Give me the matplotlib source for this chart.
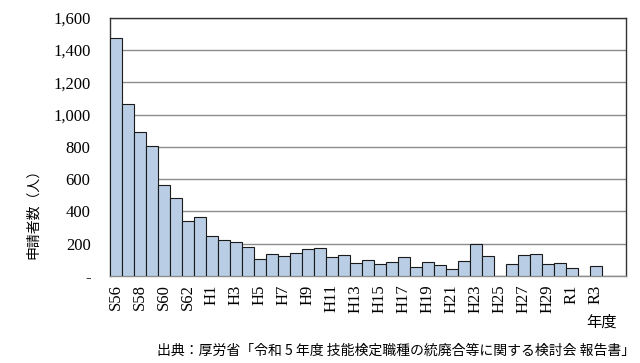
import matplotlib
matplotlib.use("Agg")
import matplotlib.pyplot as plt
import numpy as np

# 年度ラベル (S56 - R5)
years = (["S%d" % y for y in range(56, 64)]
         + ["H%d" % y for y in range(1, 31)]
         + ["R%d" % y for y in range(1, 6)])

# 申請者数 (人) ; None = no bar
applicants = [1472, 1065, 894, 805, 562, 481, 339, 363,
              250, 221, 211, 182, 107, 138, 122, 145, 165, 171, 120, 128,
              83, 97, 76, 89, 118, 56, 89, 70, 45, 95, 200, 122,
              None, 74, 130, 134, 76, 83,
              52, None, 64, None, None]

yticks = [0, 200, 400, 600, 800, 1000, 1200, 1400, 1600]
ytick_labels = ["-", "200", "400", "600", "800", "1,000", "1,200", "1,400", "1,600"]

plt.rcParams["font.serif"] = ["Liberation Serif", "DejaVu Serif"]
jp = ["Noto Sans CJK JP", "DejaVu Sans"]

fig = plt.figure(figsize=(6.4, 3.63), dpi=100)
ax = fig.add_axes([0.1719, 0.2397, 0.806, 0.7115])

x = np.arange(len(years))
vals = [np.nan if v is None else v for v in applicants]
ax.bar(x, vals, width=1.0, color="#B9CDE5", edgecolor="#1a1a1a", linewidth=0.8, zorder=3)

ax.set_xlim(-0.5, len(years) - 0.5)
ax.set_ylim(0, 1600)
ax.set_yticks(yticks)
ax.set_yticklabels(ytick_labels, fontfamily="serif", fontsize=12)
ax.yaxis.grid(True, color="#8c8c8c", linewidth=1.0, zorder=0)
ax.tick_params(axis="y", length=0, pad=14)
ax.tick_params(axis="x", length=0, pad=6)

# labels every other year, up to R3
ax.set_xticks(x[:41:2])
ax.set_xticklabels(years[:41:2], rotation=90, fontfamily="serif", fontsize=12)

for s in ax.spines.values():
    s.set_color("#333333")
    s.set_linewidth(1.0)
ax.spines["bottom"].set_color("#8c8c8c")

fig.text(0.052, 0.42, "申請者数（人）", rotation=90, ha="center", va="center",
         family=jp, fontsize=10)
fig.text(0.94, 0.112, "年度", ha="center", va="center", family=jp, fontsize=11)
fig.text(0.993, 0.035, "出典：厚労省「令和 5 年度 技能検定職種の統廃合等に関する検討会 報告書」",
         ha="right", va="center", family=jp, fontsize=10)

fig.savefig("out.png", dpi=100)
